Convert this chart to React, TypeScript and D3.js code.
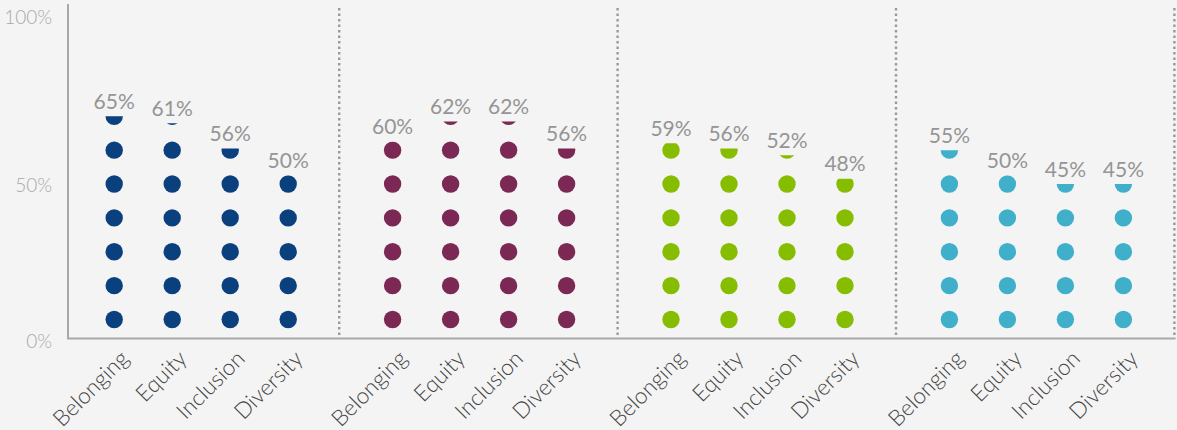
import React from "react";
import * as d3 from "d3";

const groups = ["G1", "G2", "G3", "G4"];
const categories = ["Belonging", "Equity", "Inclusion", "Diversity"];
const valuesG1 = [65, 61, 56, 50];
const valuesG2 = [60, 62, 62, 56];
const valuesG3 = [59, 56, 52, 48];
const valuesG4 = [55, 50, 45, 45];
const groupValues = [valuesG1, valuesG2, valuesG3, valuesG4];
const colors = ["#0b407f", "#7b2854", "#86bd00", "#40b0ca"];
const yTicks = [0, 50, 100];
const dotUnit = 10; // each dot = 10%

const W = 1177;
const H = 430;
const axisX = 68;
const baseY = 338.5;
const R = 8.7;

export default function App() {
  React.useEffect(() => {
    document.body.style.margin = "0";
    document.body.style.background = "#f4f4f4";
  }, []);

  const xGroup = d3.scaleBand<string>().domain(groups).range([62, 1175.6]);
  const xInner = d3
    .scalePoint<string>()
    .domain(categories)
    .range([0, xGroup.bandwidth()])
    .padding(0.9);
  const yDot = d3.scaleLinear().domain([10, 50]).range([319.5, 184]);
  const yAxis = d3.scaleLinear().domain([0, 50, 100]).range([340, 184, 16]);

  const font = "Lato, 'Open Sans', sans-serif";

  return (
    <svg
      width={W}
      height={H}
      style={{ display: "block", background: "#f4f4f4", position: "absolute", left: 0, top: 0 }}
    >
      <defs>
        {groups.map((g, gi) =>
          categories.map((c, ci) => {
            const v = groupValues[gi][ci];
            const n = Math.ceil(v / dotUnit);
            const frac = (v - (n - 1) * dotUnit) / dotUnit;
            const cy = yDot(n * dotUnit);
            const top = cy + R - 2 * R * frac;
            const x = (xGroup(g) as number) + (xInner(c) as number);
            return (
              <clipPath id={`clip-${gi}-${ci}`} key={`${gi}-${ci}`}>
                <rect x={x - R - 2} y={top} width={2 * R + 4} height={baseY - top} />
              </clipPath>
            );
          })
        )}
      </defs>

      {yTicks.map((t) => (
        <text
          key={t}
          x={52}
          y={yAxis(t)}
          textAnchor="end"
          dominantBaseline="central"
          fontFamily={font}
          fontWeight={300}
          fontSize={19}
          fill="#a9a9a9"
        >
          {t}%
        </text>
      ))}

      {groups.map((g) => {
        const xd = (xGroup(g) as number) + xGroup.bandwidth() - 1.2;
        return (
          <line
            key={g}
            x1={xd}
            x2={xd}
            y1={8}
            y2={baseY}
            stroke="#9a9a9a"
            strokeWidth={2.4}
            strokeDasharray="2.4 3.1"
          />
        );
      })}

      <line x1={axisX} x2={axisX} y1={4} y2={baseY} stroke="#a8a8a8" strokeWidth={2} />
      <line x1={axisX - 1} x2={1175.5} y1={baseY} y2={baseY} stroke="#a8a8a8" strokeWidth={2} />

      {groups.map((g, gi) =>
        categories.map((c, ci) => {
          const v = groupValues[gi][ci];
          const n = Math.ceil(v / dotUnit);
          const x = (xGroup(g) as number) + (xInner(c) as number);
          const frac = (v - (n - 1) * dotUnit) / dotUnit;
          const topCy = yDot(n * dotUnit);
          const top = topCy + R - 2 * R * frac;
          const dots = d3.range(1, n + 1);
          return (
            <g key={`${gi}-${ci}`}>
              <g clipPath={`url(#clip-${gi}-${ci})`}>
                {dots.map((k) => (
                  <circle key={k} cx={x} cy={yDot(k * dotUnit)} r={R} fill={colors[gi]} />
                ))}
              </g>
              <text
                x={x}
                y={top - 16}
                textAnchor="middle"
                dominantBaseline="central"
                fontFamily={font}
                fontSize={21}
                fill="#959595"
              >
                {v}%
              </text>
              <text
                transform={`translate(${x + 16},${360}) rotate(-45)`}
                textAnchor="end"
                fontFamily={font}
                fontWeight={300}
                fontSize={22.5}
                fill="#444"
              >
                {c}
              </text>
            </g>
          );
        })
      )}
    </svg>
  );
}
